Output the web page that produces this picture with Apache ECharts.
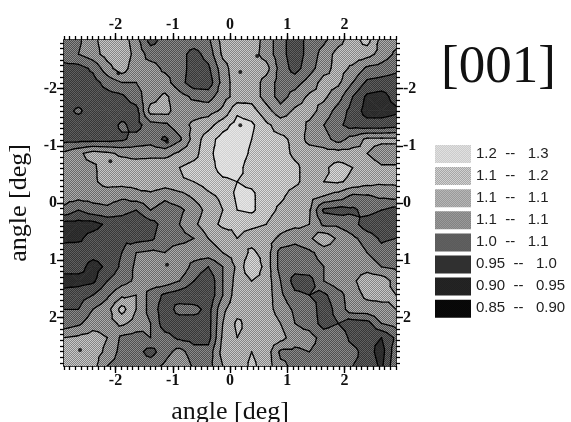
<!DOCTYPE html>
<html><head><meta charset="utf-8">
<style>html,body{margin:0;padding:0;background:#fff}#c{width:571px;height:422px}</style>
<script src="https://cdn.jsdelivr.net/npm/echarts@6/dist/echarts.min.js"></script>
</head><body><div id="c"></div>
<script>
var title = "[001]";
var axisName = "angle [deg]";
var majorTicks = [-2,-1,0,1,2];
var levels = [0.85,0.90,0.95,1.00,1.05,1.10,1.15,1.20,1.30];
var bandColors = [["#0c0c0c","#141414"],["#262626","#323232"],["#363636","#5e5e5e"],["#4e4e4e","#8a8a8a"],["#686868","#acacac"],["#848484","#c8c8c8"],["#a0a0a0","#dcdcdc"],["#d2d2d2","#e6e6e6"]];
var legendLabels = ["1.2  --   1.3","1.1  --   1.2","1.1  --   1.1","1.1  --   1.1","1.0  --   1.1","0.95  --   1.0","0.90  --   0.95","0.85  --   0.90"];
var legendColors = [["#cccccc","#e0e0e0"],["#a0a0a0","#d8d8d8"],["#8c8c8c","#c4c4c4"],["#707070","#acacac"],["#484848","#747474"],["#262626","#3a3a3a"],["#1e1e1e","#282828"],["#060606","#0a0a0a"]];
var dots = [[-1.95,-2.27],[0.475,-2.57],[0.18,-2.29],[0.18,-1.36],[-1.1,-1.07],[-2.09,-0.73],[-2.62,2.57],[-1.1,1.08]];
var xRange = [-2.9,2.9], yRange = [-2.85,2.85];
var r00=[1.03,1.04,1.09,1.12,1.13,1.07,0.98,1.02,1.03,1.03,1.04,1.12,1.13,1.13,1.08,1.02,0.97,1.02,1.04,1.08,1.13,1.17,1.08,1.07];
var r01=[1.03,1.05,1.08,1.12,1.14,1.08,1.03,1.03,1.02,0.98,1.02,1.11,1.13,1.12,1.08,1.02,0.97,1.02,1.07,1.12,1.13,1.12,1.08,1.04];
var r02=[0.98,0.98,1.01,1.08,1.13,1.06,1.07,1.04,1.03,0.97,0.99,1.08,1.13,1.13,1.12,1.03,0.98,1.03,1.08,1.12,1.09,1.04,1.03,1.01];
var r03=[0.97,0.97,0.98,1.02,1.05,1.05,1.07,1.07,1.02,0.97,0.97,1.07,1.13,1.13,1.08,1.03,1.03,1.07,1.12,1.11,1.05,0.99,0.98,0.98];
var r04=[0.97,0.97,0.97,0.98,0.99,1.03,1.08,1.11,1.07,1.04,1.03,1.08,1.12,1.13,1.08,1.03,1.07,1.11,1.11,1.07,1.00,0.94,0.93,0.97];
var r05=[0.98,1.01,0.97,0.95,0.97,0.98,1.12,1.12,1.07,1.08,1.08,1.11,1.19,1.17,1.12,1.07,1.11,1.12,1.08,1.03,0.98,0.93,0.93,0.94];
var r06=[0.97,0.97,0.97,0.97,1.01,0.98,1.03,1.04,1.08,1.11,1.13,1.18,1.22,1.21,1.16,1.13,1.13,1.09,1.05,1.01,0.98,0.97,0.97,0.98];
var r07=[0.98,0.98,0.98,0.98,0.99,1.02,1.03,0.99,1.04,1.12,1.18,1.22,1.23,1.20,1.16,1.16,1.14,1.08,1.07,1.03,1.07,1.11,1.11,1.11];
var r08=[1.06,1.09,1.12,1.11,1.09,1.08,1.08,1.08,1.11,1.13,1.19,1.22,1.23,1.19,1.17,1.17,1.14,1.13,1.12,1.12,1.12,1.10,1.08,1.08];
var r09=[1.09,1.09,1.09,1.13,1.13,1.13,1.14,1.14,1.15,1.17,1.18,1.22,1.22,1.17,1.17,1.18,1.16,1.13,1.14,1.17,1.15,1.12,1.105,1.105];
var r10=[1.08,1.08,1.09,1.12,1.12,1.12,1.15,1.13,1.145,1.15,1.17,1.19,1.20,1.19,1.18,1.17,1.16,1.13,1.15,1.155,1.14,1.12,1.11,1.11];
var r11=[1.07,1.07,1.07,1.07,1.06,1.08,1.08,1.06,1.08,1.11,1.14,1.16,1.21,1.21,1.17,1.16,1.13,1.12,1.10,1.08,1.04,1.045,1.06,1.07];
var r12=[1.04,1.00,1.03,1.04,1.02,1.00,1.05,1.03,1.04,1.07,1.12,1.15,1.20,1.21,1.17,1.14,1.12,1.105,0.99,0.98,0.99,1.02,1.00,0.98];
var r13=[0.93,0.93,0.93,0.96,0.97,0.95,0.98,1.02,1.05,1.09,1.13,1.16,1.16,1.16,1.15,1.12,1.11,1.10,1.04,1.04,1.02,0.97,0.96,0.96];
var r14=[0.94,0.94,0.97,0.98,0.99,0.98,0.99,1.03,1.03,1.05,1.10,1.12,1.15,1.13,1.12,1.09,1.07,1.09,1.14,1.09,1.06,1.03,0.99,1.00];
var r15=[0.97,0.98,0.97,0.97,1.00,1.05,1.06,1.05,1.08,1.08,1.08,1.10,1.12,1.16,1.13,1.03,1.02,1.04,1.07,1.07,1.08,1.05,1.02,1.04];
var r16=[0.97,0.97,0.93,0.96,1.01,1.06,1.09,1.10,1.09,1.03,1.00,1.05,1.11,1.20,1.13,1.03,1.02,1.03,1.05,1.07,1.08,1.08,1.05,1.04];
var r17=[0.93,0.93,0.94,1.00,1.03,1.06,1.08,1.08,1.05,1.00,0.96,1.05,1.12,1.15,1.13,1.05,0.98,0.98,1.05,1.08,1.09,1.13,1.13,1.08];
var r18=[0.97,0.98,1.00,1.04,1.09,1.10,1.03,0.99,0.97,0.96,0.96,1.05,1.13,1.13,1.13,1.06,1.01,1.00,0.99,1.03,1.08,1.11,1.11,1.10];
var r19=[1.00,1.00,1.05,1.08,1.17,1.10,1.03,0.97,1.02,1.02,0.98,1.09,1.13,1.14,1.12,1.08,1.04,1.03,0.97,1.02,1.08,1.08,1.09,1.10];
var r20=[1.02,1.04,1.08,1.08,1.11,1.08,1.05,0.97,0.97,0.97,0.98,1.10,1.16,1.13,1.13,1.10,1.05,1.03,0.98,1.00,0.97,0.98,1.05,1.07];
var r21=[1.10,1.11,1.12,1.10,1.04,1.03,1.05,1.02,0.99,0.98,0.98,1.11,1.15,1.14,1.13,1.12,1.07,1.07,1.03,1.04,0.98,0.96,0.95,1.01];
var r22=[1.12,1.12,1.12,1.09,1.03,1.02,0.98,1.03,1.07,1.02,1.02,1.12,1.13,1.15,1.13,1.04,1.04,1.05,1.03,1.03,1.02,0.97,0.93,1.03];
var r23=[1.13,1.12,1.12,1.05,1.03,1.03,1.03,1.06,1.10,1.04,1.03,1.10,1.12,1.16,1.13,1.06,1.04,1.03,1.03,1.03,1.00,0.98,0.94,1.04];
var rows=[r00,r01,r02,r03,r04,r05,r06,r07,r08,r09,r10,r11,r12,r13,r14,r15,r16,r17,r18,r19,r20,r21,r22,r23];

var nx=rows[0].length, ny=rows.length;
function gx(i){return xRange[0]+(xRange[1]-xRange[0])*i/(nx-1);}
function gy(j){return yRange[0]+(yRange[1]-yRange[0])*j/(ny-1);}
var nodes=[];
for(var j=0;j<ny;j++)for(var i=0;i<nx;i++)nodes.push([gx(i),gy(j),rows[j][i]]);

function checker(pair){
  var cv=document.createElement('canvas');cv.width=2;cv.height=2;
  var g=cv.getContext('2d');
  g.fillStyle=pair[0];g.fillRect(0,0,2,2);
  g.fillStyle=pair[1];g.fillRect(0,0,1,1);g.fillRect(1,1,1,1);
  return {image:cv,repeat:'repeat'};
}
var bandFills=bandColors.map(checker), legendFills=legendColors.map(checker);

function clipAbove(p,L,keepAbove){
  var out=[];
  for(var k=0;k<p.length;k++){
    var a=p[k],b=p[(k+1)%p.length];
    var ia=keepAbove?a[2]>=L:a[2]<=L, ib=keepAbove?b[2]>=L:b[2]<=L;
    if(ia)out.push(a);
    if(ia!==ib){var t=(L-a[2])/(b[2]-a[2]);out.push([a[0]+(b[0]-a[0])*t,a[1]+(b[1]-a[1])*t,L]);}
  }
  return out;
}
function renderCell(params,api){
  var idx=params.dataIndex, i=idx%nx, j=Math.floor(idx/nx);
  if(i>=nx-1||j>=ny-1)return null;
  var a=nodes[idx],b=nodes[idx+1],c=nodes[idx+nx+1],d=nodes[idx+nx];
  var m=[(a[0]+c[0])/2,(a[1]+c[1])/2,(a[2]+b[2]+c[2]+d[2])/4];
  var tris=[[a,b,m],[b,c,m],[c,d,m],[d,a,m]];
  var children=[], lines=[];
  tris.forEach(function(t){
    for(var n=0;n<levels.length-1;n++){
      var p=clipAbove(t,levels[n],true);
      if(p.length>2)p=clipAbove(p,levels[n+1],false);
      if(p.length>2){
        children.push({type:'polygon',shape:{points:p.map(function(q){return api.coord([q[0],q[1]]);})},
          style:{fill:bandFills[n],stroke:bandFills[n],lineWidth:0.8},silent:true});
      }
    }
    for(var l=1;l<levels.length-1;l++){
      var L=levels[l],pts=[];
      for(var e=0;e<3;e++){
        var u=t[e],v=t[(e+1)%3];
        if((u[2]>=L)!==(v[2]>=L)){var s=(L-u[2])/(v[2]-u[2]);pts.push(api.coord([u[0]+(v[0]-u[0])*s,u[1]+(v[1]-u[1])*s]));}
      }
      if(pts.length===2)lines.push({type:'line',shape:{x1:pts[0][0],y1:pts[0][1],x2:pts[1][0],y2:pts[1][1]},
        style:{stroke:'#000',lineWidth:1.3,lineCap:'round'},z2:10,silent:true});
    }
  });
  return {type:'group',children:children.concat(lines)};
}
function fine(lo,hi){var o=[];for(var k=Math.ceil(lo*10);k<=Math.floor(hi*10);k++)o.push(k/10);return o;}
var lab={fontFamily:'Liberation Serif',fontWeight:'bold',fontSize:16,color:'#111'};
function xa(pos,major,range,nm){
  return {type:'value',position:pos,min:range[0],max:range[1],
    axisLine:{show:major,onZero:false,lineStyle:{color:'#000',width:1.6}},splitLine:{show:false},
    axisTick:{show:true,inside:false,length:major?7:4,lineStyle:{color:'#000',width:major?1.4:1.3},customValues:major?majorTicks:fine(range[0],range[1])},
    axisLabel:major?Object.assign({show:true,margin:7,customValues:majorTicks,formatter:function(v){return String(v);}},lab):{show:false},
    name:nm||'',nameLocation:'middle',nameGap:33,nameTextStyle:{fontFamily:'Liberation Serif',fontSize:26,color:'#111'}};
}
function ya(pos,major,range,nm){
  var o=xa(pos,major,range,nm);o.inverse=true;o.nameGap=32;return o;
}
var graphics=[{type:'text',left:441,top:42,style:{text:title,fontFamily:'Liberation Serif',fontSize:53,fill:'#111'}}];
legendLabels.forEach(function(t,k){
  var y=145+k*22.1;
  graphics.push({type:'rect',left:435,top:y,shape:{width:36,height:18},style:{fill:legendFills[k]}});
  graphics.push({type:'text',left:476,top:y+1,style:{text:t,fontFamily:'Liberation Sans',fontSize:15,fill:'#222'}});
});
var chart=echarts.init(document.getElementById('c'),null,{renderer:'canvas'});
chart.setOption({
  animation:false,backgroundColor:'#fff',
  grid:{left:64,top:40,width:332,height:326,containLabel:false,outerBoundsMode:'none'},
  xAxis:[xa('bottom',true,xRange,axisName),xa('top',true,xRange),xa('bottom',false,xRange),xa('top',false,xRange)],
  yAxis:[ya('left',true,yRange,axisName),ya('right',true,yRange),ya('left',false,yRange),ya('right',false,yRange)],
  series:[
    {type:'custom',name:'intensity',coordinateSystem:'cartesian2d',data:nodes,renderItem:renderCell,encode:{x:0,y:1},clip:true,progressive:0,silent:true},
    {type:'scatter',data:dots,symbolSize:4,itemStyle:{color:'#000'},silent:true,z:5}
  ],
  graphic:graphics
});
</script></body></html>
